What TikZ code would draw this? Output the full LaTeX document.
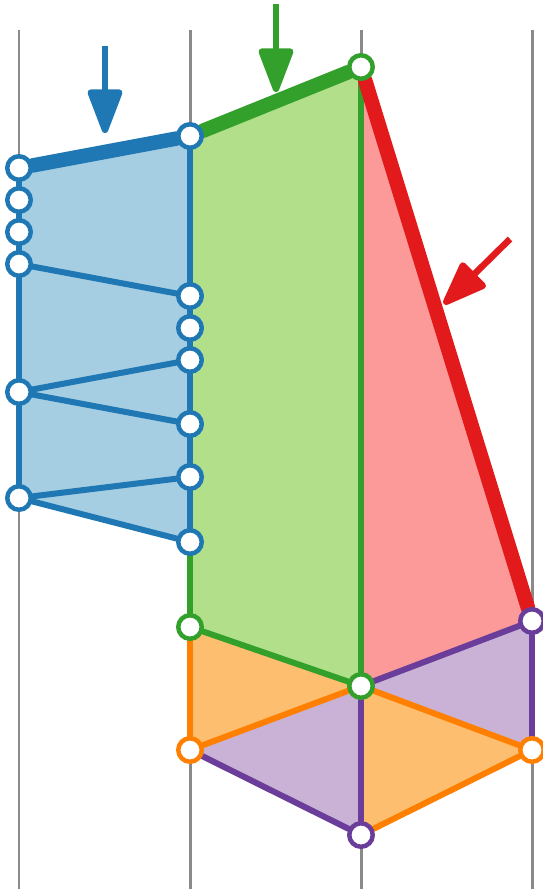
\documentclass[tikz,border=0pt]{standalone}
\usetikzlibrary{arrows.meta, backgrounds}
\definecolor{guidegray}{HTML}{8A8A8A}
\definecolor{lineblue}{HTML}{1F78B4}
\definecolor{fillblue}{HTML}{A6CEE3}
\definecolor{linegreen}{HTML}{33A02C}
\definecolor{fillgreen}{HTML}{B2DF8A}
\definecolor{linered}{HTML}{E31A1C}
\definecolor{fillred}{HTML}{FB9A99}
\definecolor{lineorange}{HTML}{FF7F00}
\definecolor{fillorange}{HTML}{FDBF6F}
\definecolor{linepurple}{HTML}{6A3D9A}
\definecolor{fillpurple}{HTML}{CAB2D6}

\begin{document}
\begin{tikzpicture}[
    x=0.02cm, y=-0.02cm,
    pt/.style={circle, draw, fill=white, line width=0.09cm, minimum size=0.47cm, inner sep=0pt},
    edge/.style={line width=0.12cm, line cap=round, line join=round},
    heavy/.style={line width=0.29cm, line cap=round},
    guide/.style={draw=guidegray, line width=0.06cm},
    arrow/.style={-{Triangle[length=1.0cm, width=0.72cm, round]}, line width=0.13cm}
]
    \useasboundingbox (0,0) rectangle (542,889);

    % blue mesh points
    \node[pt, draw=lineblue] (l1) at (19,168) {};
    \node[pt, draw=lineblue] (l2) at (19,200) {};
    \node[pt, draw=lineblue] (l3) at (19,232) {};
    \node[pt, draw=lineblue] (l4) at (19,264) {};
    \node[pt, draw=lineblue] (l5) at (19,392) {};
    \node[pt, draw=lineblue] (l6) at (19,498) {};
    \node[pt, draw=lineblue] (b1) at (190,136) {};
    \node[pt, draw=lineblue] (b2) at (190,296) {};
    \node[pt, draw=lineblue] (b3) at (190,328) {};
    \node[pt, draw=lineblue] (b4) at (190,360) {};
    \node[pt, draw=lineblue] (b5) at (190,424) {};
    \node[pt, draw=lineblue] (b6) at (190,477) {};
    \node[pt, draw=lineblue] (b7) at (190,542) {};
    % green, orange, purple points
    \node[pt, draw=linegreen] (gtop) at (361,67) {};
    \node[pt, draw=linegreen] (gleft) at (190,627) {};
    \node[pt, draw=linegreen] (hub) at (361,686) {};
    \node[pt, draw=linepurple] (pr) at (532,621) {};
    \node[pt, draw=linepurple] (pbot) at (361,835) {};
    \node[pt, draw=lineorange] (ol) at (190,750) {};
    \node[pt, draw=lineorange] (or) at (532,750) {};

    \begin{scope}[on background layer]
        \foreach \x in {19,190,361,532}
            \draw[guide] (\x,30) -- (\x,889);

        % faces
        \fill[fillblue] (l1.center) -- (b1.center) -- (b7.center) -- (l6.center) -- cycle;
        \fill[fillgreen] (b1.center) -- (gtop.center) -- (hub.center) -- (gleft.center) -- cycle;
        \fill[fillred] (gtop.center) -- (pr.center) -- (hub.center) -- cycle;
        \fill[fillorange] (gleft.center) -- (hub.center) -- (ol.center) -- cycle;
        \fill[fillorange] (hub.center) -- (or.center) -- (pbot.center) -- cycle;
        \fill[fillpurple] (ol.center) -- (hub.center) -- (pbot.center) -- cycle;
        \fill[fillpurple] (hub.center) -- (pr.center) -- (or.center) -- cycle;

        % blue edges
        \draw[edge, lineblue] (l1) -- (l2) -- (l3) -- (l4) -- (l5) -- (l6);
        \draw[edge, lineblue] (b1) -- (b2) -- (b3) -- (b4) -- (b5) -- (b6) -- (b7);
        \draw[edge, lineblue] (l4) -- (b2);
        \draw[edge, lineblue] (l5) -- (b4);
        \draw[edge, lineblue] (l5) -- (b5);
        \draw[edge, lineblue] (l6) -- (b6);
        \draw[edge, lineblue] (l6) -- (b7);
        \draw[heavy, lineblue] (l1) -- (b1);
        % green edges
        \draw[edge, linegreen] (b7) -- (gleft);
        \draw[edge, linegreen] (gtop) -- (hub);
        \draw[edge, linegreen] (gleft) -- (hub);
        \draw[heavy, linegreen] (b1) -- (gtop);
        % orange edges
        \draw[edge, lineorange] (gleft) -- (ol);
        \draw[edge, lineorange] (ol) -- (hub);
        \draw[edge, lineorange] (hub) -- (or);
        \draw[edge, lineorange] (or) -- (pbot);
        % purple edges
        \draw[edge, linepurple] (ol) -- (pbot);
        \draw[edge, linepurple] (hub) -- (pbot);
        \draw[edge, linepurple] (hub) -- (pr);
        \draw[edge, linepurple] (pr) -- (or);
        % red edge
        \draw[heavy, linered] (gtop) -- (pr);
    \end{scope}

    % loads
    \coordinate (blueload) at (105,46);
    \coordinate (bluehit) at (105,133);
    \coordinate (greenload) at (276,4);
    \coordinate (greenhit) at (276,92);
    \coordinate (redload) at (510,239);
    \coordinate (redhit) at (444,304);
    \draw[arrow, lineblue] (blueload) -- (bluehit);
    \draw[arrow, linegreen] (greenload) -- (greenhit);
    \draw[arrow, linered] (redload) -- (redhit);
\end{tikzpicture}
\end{document}
